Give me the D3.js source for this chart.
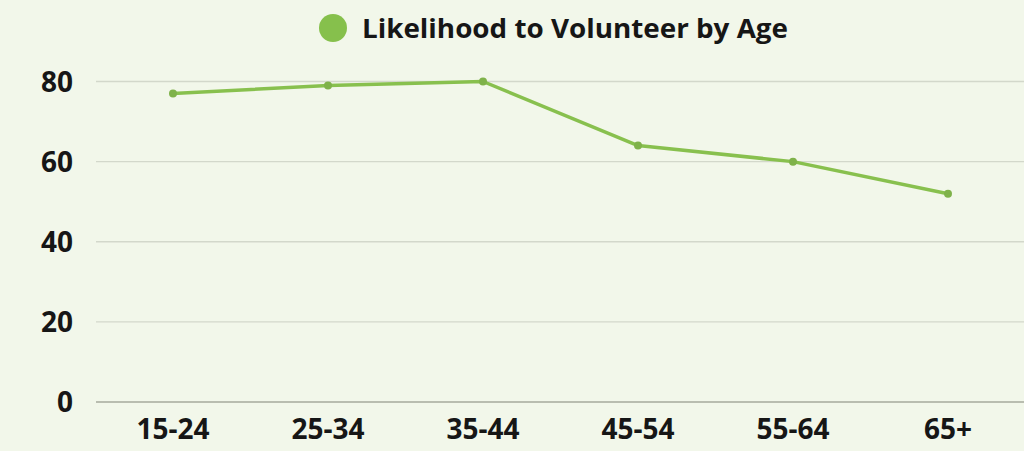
<!DOCTYPE html>
<html><head><meta charset="utf-8">
<script src="https://cdn.jsdelivr.net/npm/d3@7/dist/d3.min.js"></script>
<style>
html,body{margin:0;padding:0;background:#f2f7ea;}
svg{display:block;}
text{font-family:"Open Sans","Noto Sans",sans-serif;font-weight:700;fill:#161616;}
</style></head>
<body>
<script>
const categories = ["15-24","25-34","35-44","45-54","55-64","65+"];
const values = [77, 79, 80, 64, 60, 52];
const yTicks = [0, 20, 40, 60, 80];
const seriesName = "Likelihood to Volunteer by Age";

const W = 1024, H = 451;
const svg = d3.select("body").append("svg").attr("width", W).attr("height", H);

const x = d3.scalePoint().domain(categories).range([173, 948]);
const y = d3.scaleLinear().domain([0, 80]).range([402, 81.5]);
const left = 96, right = 1024;

// grid
svg.append("g").selectAll("line").data(yTicks).join("line")
  .attr("x1", left).attr("x2", right)
  .attr("y1", d => y(d)).attr("y2", d => y(d))
  .attr("stroke", d => d === 0 ? "#b9bdb0" : "#d3d8cb")
  .attr("stroke-width", d => d === 0 ? 2 : 1.3);

// y labels
svg.append("g").selectAll("text").data(yTicks).join("text")
  .attr("x", 73).attr("y", d => y(d)).attr("dy", "0.36em")
  .attr("text-anchor", "end").attr("font-size", 28).text(d => d);

// x labels
svg.append("g").selectAll("text").data(categories).join("text")
  .attr("x", d => x(d)).attr("y", 439)
  .attr("text-anchor", "middle").attr("font-size", 28).text(d => d);

// line
const data = categories.map((c, i) => ({c, v: values[i]}));
svg.append("path").datum(data)
  .attr("fill", "none").attr("stroke", "#88c04e").attr("stroke-width", 3.5)
  .attr("stroke-linejoin", "round")
  .attr("d", d3.line().x(d => x(d.c)).y(d => y(d.v)));
svg.append("g").selectAll("circle").data(data).join("circle")
  .attr("cx", d => x(d.c)).attr("cy", d => y(d.v)).attr("r", 4)
  .attr("fill", "#7fb24a");

// legend
svg.append("circle").attr("cx", 333).attr("cy", 28).attr("r", 14).attr("fill", "#86c04c");
svg.append("text").attr("x", 362).attr("y", 28).attr("dy", "0.36em")
  .attr("font-size", 27).attr("textLength", 426).attr("lengthAdjust", "spacingAndGlyphs")
  .text(seriesName);
</script>
</body></html>
